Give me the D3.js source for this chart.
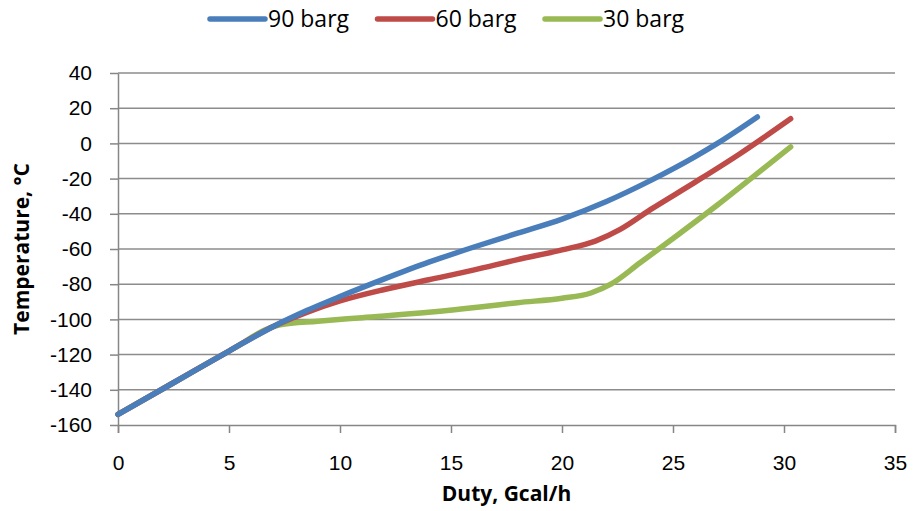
<!DOCTYPE html>
<html>
<head>
<meta charset="utf-8">
<script src="https://cdn.jsdelivr.net/npm/d3@7"></script>
<style>
  body { margin: 0; background: #fff; }
  svg { display: block; font-family: "Open Sans", sans-serif; }
  .axis path, .axis line { stroke: #868686; stroke-width: 1.5; }
  .axis text { font-size: 21px; fill: #000; }
  .grid line { stroke: #8c8c8c; stroke-width: 1.5; }
  .axis-title { font-size: 21px; font-weight: bold; }
  .legend text { font-size: 23px; }
</style>
</head>
<body>
<div id="chart"></div>
<script>
const WIDTH = 917, HEIGHT = 511;
const MARGIN_LEFT = 118, MARGIN_RIGHT = 22;
const MARGIN_TOP = 73, MARGIN_BOTTOM = 86;

const seriesNames = ['90 barg', '60 barg', '30 barg'];
const seriesColors = ['#4a7ebb', '#be4b48', '#98b954'];

// duty (Gcal/h) / temperature (°C)
const duty90 = [0, 2.5, 5, 7, 8.5, 10, 12, 14, 16, 18, 20, 22, 24, 26, 27, 28.8];
const temp90 = [-154, -136, -118, -104, -95, -87, -77, -67.5, -59, -51, -43, -33, -21, -7.5, 0, 15];

const duty60 = [0, 2.5, 5, 7, 8.5, 10, 12, 14, 16, 18, 20, 21.5, 22.6, 24, 26, 28, 30.3];
const temp60 = [-154, -136, -118, -104, -96, -89.5, -83, -77.5, -72, -66, -60.5, -55.5, -49, -37.5, -22, -6, 14];

const duty30 = [0, 2.5, 5, 7.3, 9, 11, 14, 16.3, 18, 20, 21.3, 22.2, 23.5, 25, 27, 29, 30.3];
const temp30 = [-154, -136, -118, -103, -101, -99, -96, -93, -90.5, -88, -85, -80, -68, -54, -35, -15, -2];

const xTicks = [0, 5, 10, 15, 20, 25, 30, 35];
const yTicks = [40, 20, 0, -20, -40, -60, -80, -100, -120, -140, -160];

const series = [
    { name: seriesNames[0], color: seriesColors[0], x: duty90, y: temp90 },
    { name: seriesNames[1], color: seriesColors[1], x: duty60, y: temp60 },
    { name: seriesNames[2], color: seriesColors[2], x: duty30, y: temp30 }
];

const svg = d3.select('#chart').append('svg')
    .attr('width', WIDTH)
    .attr('height', HEIGHT);

const x = d3.scaleLinear()
    .domain([0, 35])
    .range([MARGIN_LEFT, WIDTH - MARGIN_RIGHT]);

const y = d3.scaleLinear()
    .domain([-160, 40])
    .range([HEIGHT - MARGIN_BOTTOM, MARGIN_TOP]);

// horizontal gridlines
svg.append('g')
    .attr('class', 'grid')
    .selectAll('line')
    .data(yTicks.filter(d => d !== -160))
    .enter().append('line')
        .attr('x1', MARGIN_LEFT)
        .attr('x2', WIDTH - MARGIN_RIGHT)
        .attr('y1', d => y(d))
        .attr('y2', d => y(d));

const yAxis = d3.axisLeft(y)
    .tickValues(yTicks)
    .tickFormat(d => String(d))
    .tickSize(8)
    .tickPadding(18)
    .tickSizeOuter(0);

svg.append('g')
    .attr('class', 'axis')
    .attr('transform', `translate(${MARGIN_LEFT}, 0)`)
    .call(yAxis);

const xAxis = d3.axisBottom(x)
    .tickValues(xTicks)
    .tickFormat(d => String(d))
    .tickSize(8)
    .tickPadding(22)
    .tickSizeOuter(8);

svg.append('g')
    .attr('class', 'axis')
    .attr('transform', `translate(0, ${HEIGHT - MARGIN_BOTTOM})`)
    .call(xAxis);

const line = d3.line()
    .x(d => x(d[0]))
    .y(d => y(d[1]))
    .curve(d3.curveMonotoneX);

svg.append('g')
    .selectAll('path')
    .data(series.slice().reverse())
    .enter().append('path')
        .attr('fill', 'none')
        .attr('stroke', d => d.color)
        .attr('stroke-width', 5.5)
        .attr('stroke-linecap', 'round')
        .attr('stroke-linejoin', 'round')
        .attr('d', d => line(d3.zip(d.x, d.y)));

// axis titles
svg.append('text')
    .attr('class', 'axis-title')
    .attr('x', (MARGIN_LEFT + WIDTH - MARGIN_RIGHT) / 2)
    .attr('y', 501)
    .attr('text-anchor', 'middle')
    .text('Duty, Gcal/h');

svg.append('text')
    .attr('class', 'axis-title')
    .attr('transform', `translate(29, ${(MARGIN_TOP + HEIGHT - MARGIN_BOTTOM) / 2}) rotate(-90)`)
    .attr('text-anchor', 'middle')
    .text('Temperature, °C');

// legend
const legend = svg.append('g')
    .attr('class', 'legend')
    .selectAll('g')
    .data(series)
    .enter().append('g')
        .attr('transform', (d, i) => `translate(${210 + i * 167.5}, 19)`);

legend.append('line')
    .attr('x1', 0)
    .attr('x2', 55)
    .attr('stroke', d => d.color)
    .attr('stroke-width', 5.5)
    .attr('stroke-linecap', 'round');

legend.append('text')
    .attr('x', 58)
    .attr('y', 8)
    .text(d => d.name);
</script>
</body>
</html>
